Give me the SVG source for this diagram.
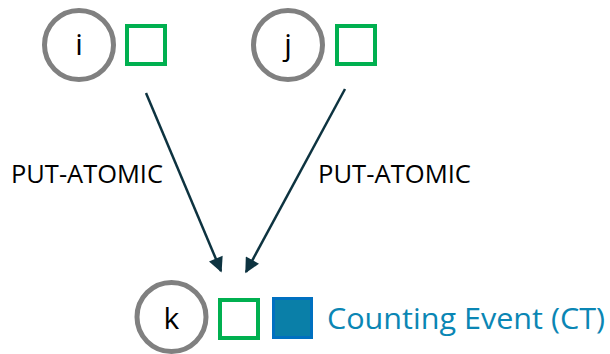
<svg xmlns="http://www.w3.org/2000/svg" width="610" height="354" viewBox="0 0 610 354">
<defs>
<style>
.pe{fill:#fff;stroke:#808080;stroke-width:5}
.lbl{font-family:"Open Sans","Noto Sans",sans-serif;font-size:25px;fill:#000}
.nl{font-family:"Open Sans","Noto Sans",sans-serif;font-size:30px;fill:#000;text-anchor:middle}
.ctr{fill:#fff;stroke:#00b050;stroke-width:4}
.ct{fill:#0a7fa8;stroke:#0070c0;stroke-width:3}
.edge{stroke:#0d3340;stroke-width:2.5;fill:none;marker-end:url(#ah)}
</style>
<marker id="ah" viewBox="0 0 10 10" refX="9" refY="5" markerWidth="6.4" markerHeight="6" orient="auto" markerUnits="strokeWidth">
<path d="M0,0 L10,5 L0,10 z" fill="#0d3340"/>
</marker>
</defs>
<g id="node-i">
<circle class="pe" cx="79" cy="45" r="34.5"/>
<text class="nl" x="79" y="55">i</text>
<rect class="ctr" x="127" y="26" width="38" height="38"/>
</g>
<g id="node-j">
<circle class="pe" cx="288" cy="45" r="34.5"/>
<text class="nl" x="288" y="55">j</text>
<rect class="ctr" x="337" y="26" width="38" height="38"/>
</g>
<g id="node-k">
<circle class="pe" cx="171.5" cy="317" r="34.5"/>
<text class="nl" x="171.5" y="329">k</text>
<rect class="ctr" x="220" y="300" width="38" height="38"/>
<rect class="ct" x="273.5" y="298.5" width="38" height="39"/>
<text x="327" y="329" font-family="'Open Sans','Noto Sans',sans-serif" font-size="29" fill="#0a86b4" textLength="278" lengthAdjust="spacingAndGlyphs">Counting Event (CT)</text>
</g>
<g id="connectors">
<line class="edge" x1="146" y1="93" x2="221" y2="271"/>
<line class="edge" x1="345" y1="89" x2="246" y2="272"/>
<text class="lbl" x="11" y="183" textLength="152" lengthAdjust="spacingAndGlyphs">PUT-ATOMIC</text>
<text class="lbl" x="318" y="183" textLength="153" lengthAdjust="spacingAndGlyphs">PUT-ATOMIC</text>
</g>
</svg>
